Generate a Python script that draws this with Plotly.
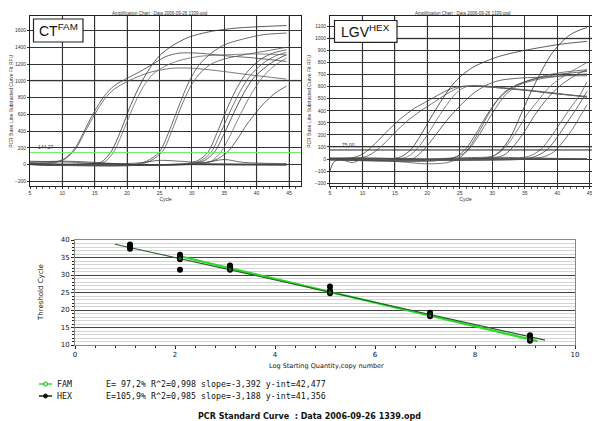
import plotly.graph_objects as go

# ---------------- data ----------------
chart_title = "Amplification Chart : Data 2006-09-26 1339.opd"
cycle_ticks = [5, 10, 15, 20, 25, 30, 35, 40, 45]
fam_rfu_ticks = [-200, 0, 200, 400, 600, 800, 1000, 1200, 1400, 1600]
hex_rfu_ticks = [-200, -100, 0, 100, 200, 300, 400, 500, 600, 700, 800, 900, 1000, 1100]
fam_threshold = 144.27
hex_threshold = 75.00
fam_threshold_label = "144,27"
hex_threshold_label = "75,00"

# FAM amplification curves, (cycle, RFU)
fam_g1_upper = [(5, 20), (9, 30), (10.5, 80), (12, 200), (13.5, 420), (15, 640), (16.5, 820), (18, 940), (20, 1030), (22, 1110), (24, 1200), (26, 1290), (28, 1330), (31, 1330), (35, 1300), (40, 1270), (44.6, 1230)]
fam_g1_lower = [(5, 15), (9, 25), (10.5, 70), (12, 180), (13.5, 390), (15, 600), (16.5, 780), (18, 900), (20, 990), (22, 1060), (24, 1110), (27, 1150), (30, 1150), (34, 1120), (38, 1080), (44.6, 1020)]
fam_g2_a = [(5, 10), (14, 5), (16, 30), (17.5, 150), (19, 400), (20.5, 700), (22, 950), (23.5, 1150), (25, 1300), (27, 1420), (29.5, 1520), (33, 1590), (37, 1630), (44.6, 1660)]
fam_g2_b = [(5, 5), (14, 0), (16.5, 30), (18, 160), (19.5, 420), (21, 700), (22.5, 930), (24, 1080), (26, 1180), (28, 1240), (31, 1290), (35, 1310), (40, 1320), (44.6, 1310)]
fam_g3_a = [(5, 5), (21, 0), (23, 40), (25, 150), (26.5, 400), (28, 700), (29.5, 980), (31, 1180), (33, 1330), (35, 1430), (38, 1500), (41, 1550), (44.6, 1570)]
fam_g3_b = [(5, 0), (21, -10), (23.5, 40), (25.5, 160), (27, 420), (28.5, 720), (30, 960), (31.5, 1110), (33, 1200), (35, 1260), (38, 1310), (41, 1350), (44.6, 1400)]
fam_g4_a = [(5, 5), (29, 10), (31, 50), (32.5, 150), (34, 400), (35.5, 680), (37, 920), (38.5, 1100), (40.5, 1250), (42.5, 1330), (44.6, 1370)]
fam_g4_b = [(5, 0), (29.5, 5), (31.5, 50), (33, 150), (34.5, 390), (36, 650), (37.5, 880), (39, 1060), (41, 1210), (43, 1300), (44.6, 1340)]
fam_g4_c = [(5, 5), (30, 10), (32, 50), (33.5, 150), (35, 370), (36.5, 620), (38, 850), (39.5, 1030), (41.5, 1170), (43, 1250), (44.6, 1310)]
fam_g4_d = [(5, 0), (31, 5), (33, 40), (34.5, 150), (36, 360), (37.5, 600), (39, 820), (40.5, 1000), (42, 1130), (43.5, 1220), (44.6, 1270)]
fam_g4_slow = [(5, 5), (31, 10), (33.5, 50), (35.5, 150), (37, 300), (38.5, 480), (40, 630), (41.5, 760), (43, 860), (44.6, 935)]
fam_flat_a = [(5, 40), (8, 35), (12, 25), (16, 10), (20, -10), (24, -5), (28, 5), (32, 10), (38, 5), (44.6, 0)]
fam_flat_b = [(5, 30), (10, 40), (14, 30), (18, 10), (22, 20), (25, 50), (28, 40), (32, 25), (35, 60), (38, 25), (44.6, 10)]
fam_flat_c = [(5, 10), (10, 5), (15, 0), (20, -5), (25, 0), (30, 5), (35, 5), (40, 5), (44.6, 5)]
fam_flat_d = [(5, 0), (8, -10), (12, 5), (17, 15), (22, -5), (28, 0), (35, -5), (44.6, -10)]

# HEX amplification curves, (cycle, RFU)
hex_g1_a = [(5, 0), (8, 5), (10, 40), (12, 130), (14, 240), (16, 340), (18, 420), (20, 480), (22, 540), (24, 590), (26, 605), (30, 595), (35, 570), (40, 540), (44.6, 515)]
hex_g1_b = [(5, -5), (9, 5), (11, 30), (13, 110), (15, 220), (17, 320), (19, 400), (21, 470), (23, 540), (25, 595), (27, 605), (31, 590), (36, 565), (40, 540), (44.6, 520)]
hex_g2_a = [(5, 0), (14, 0), (16, 20), (17.5, 80), (19, 200), (20.5, 340), (22, 470), (23.5, 590), (25, 680), (27, 760), (29, 810), (31, 850), (34, 890), (38, 930), (41, 955), (44.6, 975)]
hex_g2_b = [(5, 5), (15, 0), (17, 20), (18.5, 90), (20, 200), (21.5, 330), (23, 450), (24.5, 550), (26, 600), (28, 610), (30, 600), (35, 575), (40, 545), (44.6, 512)]
hex_g2_c = [(5, 0), (16, -10), (18, 10), (19.5, 80), (21, 180), (23, 320), (25, 440), (27, 540), (29, 610), (31, 650), (34, 670), (38, 680), (41, 690), (44.6, 690)]
hex_g3_a = [(5, -10), (15, -20), (20, -40), (23, -30), (25, 10), (26.5, 100), (28, 230), (29.5, 380), (31, 500), (33, 590), (35, 640), (38, 690), (41, 720), (44.6, 740)]
hex_g3_b = [(5, -5), (18, -20), (22, -10), (24.5, 20), (26, 90), (27.5, 210), (29, 350), (30.5, 470), (32, 560), (34, 620), (37, 670), (40, 700), (44.6, 726)]
hex_g3_c = [(5, 0), (20, -10), (24, 10), (26, 60), (27.5, 160), (29, 290), (30.5, 420), (32, 530), (34, 610), (37, 660), (41, 690), (44.6, 705)]
hex_g4_a = [(5, 0), (28, 0), (30, 20), (31.5, 80), (33, 200), (34.5, 380), (36, 560), (37.5, 720), (39, 860), (40.5, 960), (42, 1030), (43.5, 1070), (44.6, 1090)]
hex_g4_b = [(5, 5), (29, 10), (31, 50), (32.5, 130), (34, 250), (35.5, 380), (37, 480), (38.5, 580), (40, 650), (42, 720), (44.6, 800)]
hex_g4_c = [(5, 0), (30, 5), (32, 40), (33.5, 120), (35, 230), (36.5, 360), (38, 470), (39.5, 560), (41, 630), (43, 700), (44.6, 740)]
hex_g5_a = [(5, 0), (34, 5), (36, 30), (37.5, 80), (39, 180), (40.5, 300), (42, 420), (43.5, 530), (44.6, 640)]
hex_g5_b = [(5, 5), (35, 0), (37, 30), (38.5, 80), (40, 180), (41.5, 300), (43, 420), (44.6, 560)]
hex_g5_c = [(5, 0), (36, 5), (38, 20), (39.5, 60), (41, 150), (42.5, 260), (43.5, 350), (44.6, 450)]
hex_flat_a = [(5, -100), (5.5, -30), (6.5, 0), (10, 5), (20, 0), (30, 5), (44.6, 0)]
hex_flat_b = [(5, 10), (10, 5), (15, -10), (20, -15), (25, -5), (30, 0), (35, 5), (44.6, 0)]
hex_flat_c = [(5, 5), (10, 10), (15, 5), (20, 0), (25, 10), (30, 15), (35, 10), (40, 5), (44.6, 0)]
hex_flat_d = [(5, -5), (7, -10), (8.5, -30), (10, 0), (15, 0), (25, -5), (44.6, 0)]

fam_curves = [fam_g1_upper, fam_g1_lower, fam_g2_a, fam_g2_b, fam_g3_a, fam_g3_b, fam_g4_a, fam_g4_b,
              fam_g4_c, fam_g4_d, fam_g4_slow, fam_flat_a, fam_flat_b, fam_flat_c, fam_flat_d]
hex_curves = [hex_g1_a, hex_g1_b, hex_g2_a, hex_g2_b, hex_g2_c, hex_g3_a, hex_g3_b, hex_g3_c, hex_g4_a,
              hex_g4_b, hex_g4_c, hex_g5_a, hex_g5_b, hex_g5_c, hex_flat_a, hex_flat_b, hex_flat_c, hex_flat_d]

# standard curve points
hex_log_qty = [1.1, 1.1, 1.1, 2.1, 2.1, 2.1, 2.1, 3.1, 3.1, 3.1, 5.1, 5.1, 5.1, 7.1, 7.1, 7.1, 9.1, 9.1, 9.1]
hex_ct = [38.7, 38.2, 37.5, 35.8, 35.3, 34.5, 31.5, 32.7, 32.2, 31.5, 26.7, 25.6, 24.8, 19.2, 18.6, 18.2, 12.8, 12.1, 11.2]
fam_log_qty = [2.1, 2.1, 3.1, 3.1, 5.1, 5.1, 7.1, 7.1, 9.1, 9.1]
fam_ct = [35.0, 34.7, 32.0, 31.6, 25.4, 25.0, 18.8, 18.4, 11.9, 11.5]

fit_names = ["FAM", "HEX"]
fit_slope = [-3.392, -3.188]
fit_intercept = [42.477, 41.356]
fit_x_start = [2.1, 0.8]
fit_x_end = [9.25, 9.4]
fit_stats = ["E=\u00a097,2% R^2=0,998 slope=-3,392 y-int=42,477",
             "E=105,9% R^2=0,985 slope=-3,188 y-int=41,356"]
std_title = "PCR Standard Curve\u00a0 : Data 2006-09-26 1339.opd"

# ---------------- figure ----------------
W, H = 600, 421
def fx(p): return p / W
def fy(p): return 1 - p / H

fig = go.Figure()

curve_colors = ["#444", "#555", "#333", "#666", "#444", "#555"]
for i, c in enumerate(fam_curves):
    fig.add_trace(go.Scatter(x=[p[0] for p in c], y=[p[1] for p in c], mode="lines",
                             line=dict(color=curve_colors[i % 6], width=0.8, shape="spline", smoothing=0.8),
                             xaxis="x", yaxis="y", hoverinfo="skip"))
for i, c in enumerate(hex_curves):
    fig.add_trace(go.Scatter(x=[p[0] for p in c], y=[p[1] for p in c], mode="lines",
                             line=dict(color=curve_colors[i % 6], width=0.8, shape="spline", smoothing=0.8),
                             xaxis="x2", yaxis="y2", hoverinfo="skip"))

# threshold lines
fig.add_trace(go.Scatter(x=[5, 46.9], y=[fam_threshold] * 2, mode="lines",
                         line=dict(color="#66ee66", width=1), xaxis="x", yaxis="y"))
fig.add_trace(go.Scatter(x=[5, 46.8], y=[hex_threshold] * 2, mode="lines",
                         line=dict(color="#222", width=1), xaxis="x2", yaxis="y2"))

# standard curve fit lines
fit_colors = ["#22dd22", "#2c5a2c"]
fit_widths = [2.2, 1.1]
for k in range(2):
    xs = [fit_x_start[k], fit_x_end[k]]
    ys = [fit_intercept[k] + fit_slope[k] * x for x in xs]
    fig.add_trace(go.Scatter(x=xs, y=ys, mode="lines", line=dict(color=fit_colors[k], width=fit_widths[k]),
                             xaxis="x3", yaxis="y3"))
fig.add_trace(go.Scatter(x=hex_log_qty, y=hex_ct, mode="markers",
                         marker=dict(color="black", size=6), xaxis="x3", yaxis="y3"))
fig.add_trace(go.Scatter(x=fam_log_qty, y=fam_ct, mode="markers",
                         marker=dict(color="#1a6a1a", size=4, line=dict(color="black", width=1)),
                         xaxis="x3", yaxis="y3"))

small = dict(family="Liberation Sans, Arial", size=5, color="#333")
amp_x = dict(range=[5, 46.9], tickvals=cycle_ticks, showgrid=True, gridcolor="#333", gridwidth=0.7,
             showline=True, linecolor="#222", mirror=True, ticks="outside", ticklen=2, tickcolor="#333",
             tickfont=small, zeroline=False, automargin=False,
             minor=dict(dtick=1, ticks="outside", ticklen=1.5, tickcolor="#555", showgrid=False),
             title=dict(text="Cycle", font=small, standoff=1))
amp_y = dict(showgrid=True, gridcolor="#333", gridwidth=0.7, showline=True, linecolor="#222", mirror=True,
             ticks="outside", ticklen=2, tickcolor="#333", tickfont=small, zeroline=False, automargin=False,
             title=dict(text="PCR Base Line Subtracted Curve Fit RFU", font=small, standoff=2))

fig.update_layout(
    width=W, height=H, margin=dict(l=0, r=0, t=0, b=0, autoexpand=False), showlegend=False,
    plot_bgcolor="white", paper_bgcolor="white",
    xaxis=dict(amp_x, domain=[fx(22), fx(293.3)], anchor="y"),
    yaxis=dict(amp_y, domain=[fy(178.3), fy(8.3)], range=[-260, 1770], tickvals=fam_rfu_ticks, anchor="x"),
    xaxis2=dict(amp_x, domain=[fx(322), fx(593.3)], range=[5, 46.8], anchor="y2"),
    yaxis2=dict(amp_y, domain=[fy(178.3), fy(8.3)], range=[-226, 1183], tickvals=hex_rfu_ticks, anchor="x2"),
    xaxis3=dict(domain=[fx(67), fx(567)], range=[0, 10], dtick=2, anchor="y3", showgrid=False,
                showline=True, linecolor="#888", mirror=True, ticks="outside", ticklen=3, tickcolor="#222",
                tickfont=dict(family="DejaVu Sans", size=7, color="#111"), zeroline=False, automargin=False,
                minor=dict(dtick=0.4, ticks="outside", ticklen=2, tickcolor="#222")),
    yaxis3=dict(domain=[fy(337), fy(232)], range=[10, 40], dtick=5, anchor="x3", showgrid=True,
                gridcolor="#444", gridwidth=1, showline=True, linecolor="#888", mirror=True,
                ticks="outside", ticklen=3, tickcolor="#222", zeroline=False, automargin=False,
                tickfont=dict(family="DejaVu Sans", size=7, color="#111"),
                minor=dict(dtick=1, ticks="outside", ticklen=2, tickcolor="#222", showgrid=True,
                           gridcolor="#d4d4d4", gridwidth=1)),
)

# light gray emphasis grid lines
for yv in [1000]:
    fig.add_shape(type="line", xref="x", yref="y", x0=5, x1=46.9, y0=yv, y1=yv, line=dict(color="#bbb", width=2), layer="below")
for yv in [1000, 100]:
    fig.add_shape(type="line", xref="x2", yref="y2", x0=5, x1=46.8, y0=yv, y1=yv, line=dict(color="#bbb", width=2), layer="below")
for xv in [10, 15, 20, 40, 45]:
    fig.add_shape(type="line", xref="x", yref="y", x0=xv, x1=xv, y0=-260, y1=1770, line=dict(color="#bbb", width=1.5), layer="below")
for xv in [10, 15, 20]:
    fig.add_shape(type="line", xref="x2", yref="y2", x0=xv, x1=xv, y0=-226, y1=1183, line=dict(color="#bbb", width=1.5), layer="below")

# inset label boxes
fig.add_shape(type="rect", xref="paper", yref="paper", x0=fx(25.5), x1=fx(75), y0=fy(34), y1=fy(11),
              line=dict(color="#222", width=1.2), fillcolor="white", layer="above")
fig.add_shape(type="rect", xref="paper", yref="paper", x0=fx(326.5), x1=fx(389), y0=fy(34.3), y1=fy(12.5),
              line=dict(color="#222", width=1.2), fillcolor="white", layer="above")

def A(text, x, y, font, xanchor="center", yanchor="middle", **kw):
    return dict(text=text, x=x, y=y, xref="paper", yref="paper", showarrow=False,
                xanchor=xanchor, yanchor=yanchor, font=font, **kw)

tiny = dict(family="Liberation Sans, Arial", size=4.5, color="#333")
ann = []
ann.append(A(chart_title, fx(152), fy(5), tiny))
ann.append(A(chart_title, fx(455), fy(5), tiny))
ann.append(A("CT<sup>FAM</sup>", fx(50), fy(22.5), dict(family="Liberation Sans, Arial", size=14, color="#111")))
ann.append(A("LGV<sup>HEX</sup>", fx(357.5), fy(23.5), dict(family="Liberation Sans, Arial", size=14, color="#111")))
ann.append(dict(text=fam_threshold_label, x=6, y=fam_threshold, xref="x", yref="y", showarrow=False,
                xanchor="left", yanchor="bottom", font=small))
ann.append(dict(text=hex_threshold_label, x=6.5, y=hex_threshold, xref="x2", yref="y2", showarrow=False,
                xanchor="left", yanchor="bottom", font=small))
ann.append(A("Log Starting Quantity,copy number", fx(318), fy(358), dict(family="DejaVu Sans", size=6.5, color="#111")))
ann.append(A("Threshold Cycle", fx(33), fy(285), dict(family="DejaVu Sans", size=7, color="#111"), textangle=-90))
mono = dict(family="DejaVu Sans Mono", size=8.3, color="#111")
legend_y = [376, 388]
for k in range(2):
    ann.append(A(fit_names[k], fx(47), fy(legend_y[k]), mono, xanchor="left"))
    ann.append(A(fit_stats[k], fx(96), fy(legend_y[k]), mono, xanchor="left"))
ann.append(A("<b>" + std_title + "</b>", fx(301), fy(408), dict(family="DejaVu Sans", size=8, color="#111")))
fig.update_layout(annotations=ann)

# legend glyphs
for k, (lc, fc) in enumerate([("#22dd22", "#bbffbb"), ("#111", "#111")]):
    yy = legend_y[k]
    fig.add_shape(type="line", xref="paper", yref="paper", x0=fx(31), x1=fx(44), y0=fy(yy), y1=fy(yy),
                  line=dict(color=lc, width=1.4))
    fig.add_shape(type="circle", xref="paper", yref="paper", x0=fx(35.5), x1=fx(39.5), y0=fy(yy + 2), y1=fy(yy - 2),
                  line=dict(color=lc if k else "#22aa22", width=1), fillcolor=fc)

fig.write_html("out.html")
